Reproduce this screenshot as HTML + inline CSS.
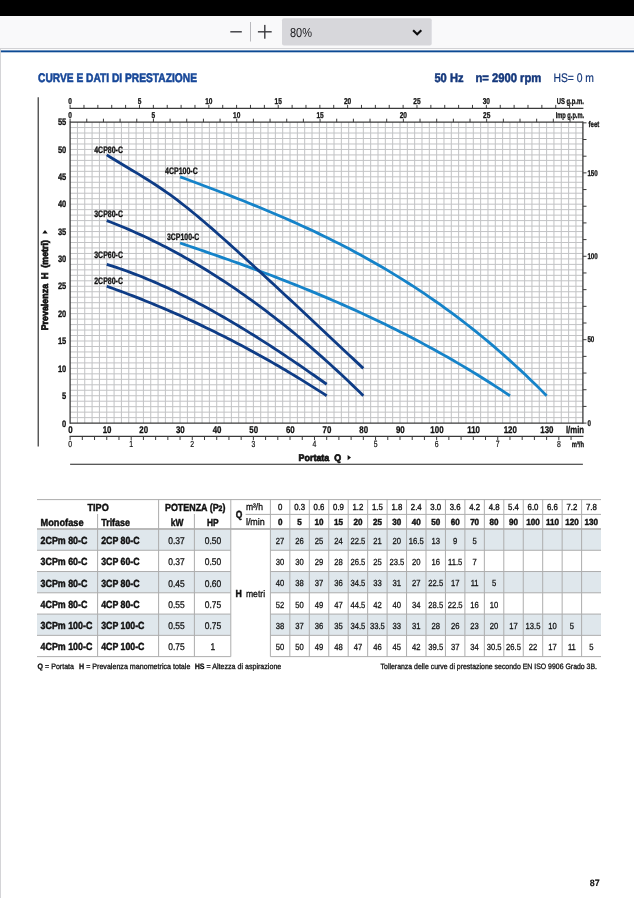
<!DOCTYPE html>
<html><head><meta charset="utf-8"><title>Curve e dati di prestazione</title>
<style>
html,body{margin:0;padding:0;background:#fff;}
svg{display:block;font-family:"Liberation Sans",sans-serif;text-rendering:geometricPrecision;}
</style></head><body>
<svg width="634" height="898" viewBox="0 0 634 898">
<rect width="634" height="898" fill="#fff"/>
<rect x="0.00" y="0.00" width="634.00" height="16.00" fill="#000"/>
<rect x="0.00" y="16.00" width="634.00" height="32.00" fill="#f9f9fa"/>
<rect x="0.00" y="48.00" width="634.00" height="1.10" fill="#d2d2d5"/>
<rect x="0.00" y="49.00" width="0.90" height="849.00" fill="#d0d0d3"/>
<rect x="0.90" y="50.40" width="634.00" height="1.90" fill="#0d4a94"/>
<rect x="230.30" y="31.10" width="11.50" height="1.40" fill="#3a3a3f"/>
<rect x="250.00" y="22.00" width="1.00" height="19.50" fill="#b8b8bc"/>
<rect x="257.90" y="31.10" width="13.80" height="1.40" fill="#3a3a3f"/>
<rect x="264.10" y="24.90" width="1.40" height="13.80" fill="#3a3a3f"/>
<rect x="282" y="18.3" width="149.7" height="27.3" rx="2" fill="#d7d7db"/>
<text transform="translate(289.90,36.60) scale(0.8456,1)" font-size="13.0" font-weight="400" text-anchor="start" fill="#1a1a1e" xml:space="preserve">80%</text>
<path d="M413.1 30.2 L417.2 34.3 L421.3 30.2" fill="none" stroke="#0c0c0d" stroke-width="2.1"/>
<text transform="translate(38.00,81.60) scale(0.8256,1)" font-size="12.38" font-weight="700" text-anchor="start" fill="#174798" xml:space="preserve" stroke="#174798" stroke-width="0.55">CURVE E DATI DI PRESTAZIONE</text>
<text transform="translate(434.40,81.60) scale(0.8998,1)" font-size="12.38" font-weight="700" text-anchor="start" fill="#15387c" xml:space="preserve" stroke="#15387c" stroke-width="0.5">50 Hz</text>
<text transform="translate(475.40,81.60) scale(0.9091,1)" font-size="12.38" font-weight="700" text-anchor="start" fill="#15387c" xml:space="preserve" stroke="#15387c" stroke-width="0.5">n= 2900 rpm</text>
<text transform="translate(553.40,81.60) scale(0.8370,1)" font-size="12.38" font-weight="400" text-anchor="start" fill="#15387c" xml:space="preserve" stroke="#15387c" stroke-width="0.2">HS= 0 m</text>
<path d="M77.43 122.09V423.10M84.76 122.09V423.10M92.09 122.09V423.10M99.42 122.09V423.10M106.75 122.09V423.10M114.09 122.09V423.10M121.42 122.09V423.10M128.75 122.09V423.10M136.08 122.09V423.10M143.41 122.09V423.10M150.74 122.09V423.10M158.07 122.09V423.10M165.40 122.09V423.10M172.73 122.09V423.10M180.06 122.09V423.10M187.40 122.09V423.10M194.73 122.09V423.10M202.06 122.09V423.10M209.39 122.09V423.10M216.72 122.09V423.10M224.05 122.09V423.10M231.38 122.09V423.10M238.71 122.09V423.10M246.04 122.09V423.10M253.38 122.09V423.10M260.71 122.09V423.10M268.04 122.09V423.10M275.37 122.09V423.10M282.70 122.09V423.10M290.03 122.09V423.10M297.36 122.09V423.10M304.69 122.09V423.10M312.02 122.09V423.10M319.35 122.09V423.10M326.69 122.09V423.10M334.02 122.09V423.10M341.35 122.09V423.10M348.68 122.09V423.10M356.01 122.09V423.10M363.34 122.09V423.10M370.67 122.09V423.10M378.00 122.09V423.10M385.33 122.09V423.10M392.66 122.09V423.10M400.00 122.09V423.10M407.33 122.09V423.10M414.66 122.09V423.10M421.99 122.09V423.10M429.32 122.09V423.10M436.65 122.09V423.10M443.98 122.09V423.10M451.31 122.09V423.10M458.64 122.09V423.10M465.97 122.09V423.10M473.31 122.09V423.10M480.64 122.09V423.10M487.97 122.09V423.10M495.30 122.09V423.10M502.63 122.09V423.10M509.96 122.09V423.10M517.29 122.09V423.10M524.62 122.09V423.10M531.95 122.09V423.10M539.28 122.09V423.10M546.62 122.09V423.10M553.95 122.09V423.10M561.28 122.09V423.10M568.61 122.09V423.10M575.94 122.09V423.10M70.10 417.63H582.90M70.10 412.15H582.90M70.10 406.68H582.90M70.10 401.21H582.90M70.10 395.74H582.90M70.10 390.26H582.90M70.10 384.79H582.90M70.10 379.32H582.90M70.10 373.84H582.90M70.10 368.37H582.90M70.10 362.90H582.90M70.10 357.42H582.90M70.10 351.95H582.90M70.10 346.48H582.90M70.10 341.00H582.90M70.10 335.53H582.90M70.10 330.06H582.90M70.10 324.59H582.90M70.10 319.11H582.90M70.10 313.64H582.90M70.10 308.17H582.90M70.10 302.69H582.90M70.10 297.22H582.90M70.10 291.75H582.90M70.10 286.28H582.90M70.10 280.80H582.90M70.10 275.33H582.90M70.10 269.86H582.90M70.10 264.38H582.90M70.10 258.91H582.90M70.10 253.44H582.90M70.10 247.96H582.90M70.10 242.49H582.90M70.10 237.02H582.90M70.10 231.55H582.90M70.10 226.07H582.90M70.10 220.60H582.90M70.10 215.13H582.90M70.10 209.65H582.90M70.10 204.18H582.90M70.10 198.71H582.90M70.10 193.23H582.90M70.10 187.76H582.90M70.10 182.29H582.90M70.10 176.82H582.90M70.10 171.34H582.90M70.10 165.87H582.90M70.10 160.40H582.90M70.10 154.92H582.90M70.10 149.45H582.90M70.10 143.98H582.90M70.10 138.50H582.90M70.10 133.03H582.90M70.10 127.56H582.90" stroke="#c2c3c5" stroke-width="1" fill="none"/>
<path d="M180.06 176.82 L185.38 178.77 L190.69 180.74 L196.00 182.71 L201.31 184.69 L206.63 186.69 L211.94 188.69 L217.25 190.71 L222.56 192.75 L227.88 194.80 L233.19 196.87 L238.50 198.95 L243.81 201.06 L249.13 203.19 L254.44 205.34 L259.75 207.51 L265.06 209.71 L270.37 211.94 L275.69 214.19 L281.00 216.47 L286.31 218.78 L291.62 221.13 L296.94 223.50 L302.25 225.91 L307.56 228.36 L312.87 230.84 L318.19 233.36 L323.50 235.92 L328.81 238.52 L334.12 241.16 L339.43 243.85 L344.75 246.58 L350.06 249.35 L355.37 252.17 L360.68 255.04 L366.00 257.96 L371.31 260.93 L376.62 263.95 L381.93 267.03 L387.25 270.15 L392.56 273.34 L397.87 276.58 L403.18 279.88 L408.49 283.24 L413.81 286.66 L419.12 290.15 L424.43 293.69 L429.74 297.31 L435.06 300.98 L440.37 304.73 L445.68 308.54 L450.99 312.42 L456.31 316.38 L461.62 320.41 L466.93 324.51 L472.24 328.68 L477.55 332.93 L482.87 337.26 L488.18 341.67 L493.49 346.16 L498.80 350.73 L504.12 355.38 L509.43 360.12 L514.74 364.94 L520.05 369.85 L525.37 374.85 L530.68 379.93 L535.99 385.11 L541.30 390.37 L546.62 395.74" stroke="#1583c9" stroke-width="2.8" fill="none" stroke-linecap="butt"/>
<path d="M180.06 243.04 L184.85 244.65 L189.63 246.26 L194.41 247.89 L199.19 249.52 L203.97 251.16 L208.75 252.81 L213.53 254.47 L218.31 256.14 L223.09 257.82 L227.88 259.51 L232.66 261.22 L237.44 262.93 L242.22 264.66 L247.00 266.40 L251.78 268.15 L256.56 269.92 L261.34 271.70 L266.12 273.49 L270.91 275.31 L275.69 277.13 L280.47 278.97 L285.25 280.83 L290.03 282.71 L294.81 284.60 L299.59 286.52 L304.37 288.45 L309.15 290.40 L313.94 292.37 L318.72 294.36 L323.50 296.37 L328.28 298.40 L333.06 300.45 L337.84 302.52 L342.62 304.62 L347.40 306.74 L352.18 308.88 L356.97 311.04 L361.75 313.23 L366.53 315.45 L371.31 317.69 L376.09 319.95 L380.87 322.25 L385.65 324.56 L390.43 326.91 L395.21 329.28 L400.00 331.68 L404.78 334.11 L409.56 336.57 L414.34 339.06 L419.12 341.58 L423.90 344.13 L428.68 346.71 L433.46 349.32 L438.24 351.96 L443.02 354.63 L447.81 357.34 L452.59 360.08 L457.37 362.86 L462.15 365.66 L466.93 368.51 L471.71 371.39 L476.49 374.30 L481.27 377.25 L486.05 380.24 L490.84 383.26 L495.62 386.32 L500.40 389.42 L505.18 392.56 L509.96 395.74" stroke="#1583c9" stroke-width="2.8" fill="none" stroke-linecap="butt"/>
<path d="M106.75 154.92 L110.47 157.25 L114.19 159.53 L117.91 161.79 L121.63 164.02 L125.35 166.24 L129.07 168.46 L132.79 170.68 L136.50 172.91 L140.22 175.16 L143.94 177.44 L147.66 179.76 L151.38 182.11 L155.10 184.51 L158.82 186.97 L162.53 189.49 L166.25 192.07 L169.97 194.73 L173.69 197.45 L177.41 200.24 L181.13 203.09 L184.85 206.00 L188.56 208.96 L192.28 211.97 L196.00 215.03 L199.72 218.14 L203.44 221.28 L207.16 224.46 L210.88 227.68 L214.60 230.92 L218.31 234.20 L222.03 237.49 L225.75 240.80 L229.47 244.13 L233.19 247.47 L236.91 250.82 L240.63 254.19 L244.34 257.56 L248.06 260.94 L251.78 264.33 L255.50 267.72 L259.22 271.13 L262.94 274.54 L266.66 277.96 L270.37 281.39 L274.09 284.83 L277.81 288.27 L281.53 291.71 L285.25 295.17 L288.97 298.63 L292.69 302.09 L296.40 305.56 L300.12 309.03 L303.84 312.50 L307.56 315.98 L311.28 319.47 L315.00 322.95 L318.72 326.44 L322.44 329.93 L326.15 333.42 L329.87 336.92 L333.59 340.41 L337.31 343.91 L341.03 347.40 L344.75 350.90 L348.47 354.40 L352.18 357.89 L355.90 361.39 L359.62 364.88 L363.34 368.37" stroke="#0e3c86" stroke-width="2.8" fill="none" stroke-linecap="butt"/>
<path d="M106.75 220.60 L110.47 222.02 L114.19 223.48 L117.91 224.97 L121.63 226.50 L125.35 228.06 L129.07 229.64 L132.79 231.27 L136.50 232.92 L140.22 234.61 L143.94 236.33 L147.66 238.08 L151.38 239.87 L155.10 241.69 L158.82 243.54 L162.53 245.42 L166.25 247.34 L169.97 249.29 L173.69 251.27 L177.41 253.28 L181.13 255.33 L184.85 257.41 L188.56 259.52 L192.28 261.67 L196.00 263.84 L199.72 266.05 L203.44 268.30 L207.16 270.57 L210.88 272.88 L214.60 275.23 L218.31 277.60 L222.03 280.01 L225.75 282.45 L229.47 284.92 L233.19 287.42 L236.91 289.96 L240.63 292.53 L244.34 295.14 L248.06 297.77 L251.78 300.44 L255.50 303.14 L259.22 305.88 L262.94 308.64 L266.66 311.44 L270.37 314.28 L274.09 317.14 L277.81 320.04 L281.53 322.97 L285.25 325.93 L288.97 328.93 L292.69 331.96 L296.40 335.02 L300.12 338.12 L303.84 341.24 L307.56 344.40 L311.28 347.60 L315.00 350.82 L318.72 354.08 L322.44 357.37 L326.15 360.69 L329.87 364.05 L333.59 367.44 L337.31 370.86 L341.03 374.32 L344.75 377.81 L348.47 381.33 L352.18 384.88 L355.90 388.46 L359.62 392.08 L363.34 395.74" stroke="#0e3c86" stroke-width="2.8" fill="none" stroke-linecap="butt"/>
<path d="M106.75 264.38 L109.94 265.38 L113.13 266.40 L116.32 267.45 L119.50 268.52 L122.69 269.63 L125.88 270.76 L129.07 271.92 L132.25 273.11 L135.44 274.32 L138.63 275.56 L141.82 276.82 L145.00 278.11 L148.19 279.43 L151.38 280.77 L154.57 282.13 L157.75 283.52 L160.94 284.93 L164.13 286.37 L167.32 287.83 L170.50 289.31 L173.69 290.82 L176.88 292.35 L180.06 293.90 L183.25 295.47 L186.44 297.07 L189.63 298.69 L192.81 300.32 L196.00 301.98 L199.19 303.66 L202.38 305.36 L205.56 307.08 L208.75 308.82 L211.94 310.58 L215.13 312.35 L218.31 314.15 L221.50 315.96 L224.69 317.80 L227.88 319.65 L231.06 321.51 L234.25 323.40 L237.44 325.30 L240.63 327.22 L243.81 329.15 L247.00 331.11 L250.19 333.07 L253.38 335.05 L256.56 337.05 L259.75 339.06 L262.94 341.09 L266.12 343.13 L269.31 345.19 L272.50 347.26 L275.69 349.34 L278.87 351.44 L282.06 353.54 L285.25 355.66 L288.44 357.80 L291.62 359.94 L294.81 362.10 L298.00 364.27 L301.19 366.45 L304.37 368.64 L307.56 370.84 L310.75 373.05 L313.94 375.27 L317.12 377.50 L320.31 379.74 L323.50 381.98 L326.69 384.24" stroke="#0e3c86" stroke-width="2.8" fill="none" stroke-linecap="butt"/>
<path d="M106.75 286.28 L109.94 287.41 L113.13 288.55 L116.32 289.71 L119.50 290.88 L122.69 292.06 L125.88 293.25 L129.07 294.46 L132.25 295.68 L135.44 296.92 L138.63 298.16 L141.82 299.42 L145.00 300.70 L148.19 301.98 L151.38 303.28 L154.57 304.59 L157.75 305.92 L160.94 307.26 L164.13 308.61 L167.32 309.97 L170.50 311.35 L173.69 312.74 L176.88 314.15 L180.06 315.57 L183.25 317.00 L186.44 318.45 L189.63 319.90 L192.81 321.38 L196.00 322.86 L199.19 324.36 L202.38 325.87 L205.56 327.40 L208.75 328.94 L211.94 330.49 L215.13 332.06 L218.31 333.64 L221.50 335.24 L224.69 336.85 L227.88 338.47 L231.06 340.10 L234.25 341.75 L237.44 343.42 L240.63 345.09 L243.81 346.79 L247.00 348.49 L250.19 350.21 L253.38 351.94 L256.56 353.69 L259.75 355.45 L262.94 357.23 L266.12 359.02 L269.31 360.82 L272.50 362.64 L275.69 364.47 L278.87 366.32 L282.06 368.18 L285.25 370.05 L288.44 371.94 L291.62 373.85 L294.81 375.76 L298.00 377.69 L301.19 379.64 L304.37 381.60 L307.56 383.58 L310.75 385.57 L313.94 387.57 L317.12 389.59 L320.31 391.62 L323.50 393.67 L326.69 395.74" stroke="#0e3c86" stroke-width="2.8" fill="none" stroke-linecap="butt"/>
<text transform="translate(94.20,152.60) scale(0.7482,1)" font-size="9.36" font-weight="700" text-anchor="start" fill="#111" xml:space="preserve" stroke="#111" stroke-width="0.3">4CP80-C</text>
<text transform="translate(165.00,174.00) scale(0.7506,1)" font-size="9.36" font-weight="700" text-anchor="start" fill="#111" xml:space="preserve" stroke="#111" stroke-width="0.3">4CP100-C</text>
<text transform="translate(94.20,216.80) scale(0.7482,1)" font-size="9.36" font-weight="700" text-anchor="start" fill="#111" xml:space="preserve" stroke="#111" stroke-width="0.3">3CP80-C</text>
<text transform="translate(167.00,240.40) scale(0.7414,1)" font-size="9.36" font-weight="700" text-anchor="start" fill="#111" xml:space="preserve" stroke="#111" stroke-width="0.3">3CP100-C</text>
<text transform="translate(94.20,258.00) scale(0.7482,1)" font-size="9.36" font-weight="700" text-anchor="start" fill="#111" xml:space="preserve" stroke="#111" stroke-width="0.3">3CP60-C</text>
<text transform="translate(94.20,284.00) scale(0.7482,1)" font-size="9.36" font-weight="700" text-anchor="start" fill="#111" xml:space="preserve" stroke="#111" stroke-width="0.3">2CP80-C</text>
<line x1="70.10" y1="121.49" x2="70.10" y2="423.70" stroke="#3a3a3a" stroke-width="1.3"/>
<line x1="582.90" y1="121.49" x2="582.90" y2="423.70" stroke="#3a3a3a" stroke-width="1.3"/>
<line x1="70.10" y1="122.09" x2="582.90" y2="122.09" stroke="#3a3a3a" stroke-width="1.3"/>
<line x1="70.10" y1="423.10" x2="582.90" y2="423.10" stroke="#3a3a3a" stroke-width="1.3"/>
<line x1="69.60" y1="108.30" x2="583.40" y2="108.30" stroke="#3a3a3a" stroke-width="1.2"/>
<path d="M70.10 108.30v-3.4M83.98 108.30v-3.4M97.85 108.30v-3.4M111.73 108.30v-3.4M125.60 108.30v-3.4M139.48 108.30v-3.4M153.35 108.30v-3.4M167.23 108.30v-3.4M181.10 108.30v-3.4M194.98 108.30v-3.4M208.85 108.30v-3.4M222.73 108.30v-3.4M236.60 108.30v-3.4M250.48 108.30v-3.4M264.36 108.30v-3.4M278.23 108.30v-3.4M292.11 108.30v-3.4M305.98 108.30v-3.4M319.86 108.30v-3.4M333.73 108.30v-3.4M347.61 108.30v-3.4M361.48 108.30v-3.4M375.36 108.30v-3.4M389.23 108.30v-3.4M403.11 108.30v-3.4M416.98 108.30v-3.4M430.86 108.30v-3.4M444.74 108.30v-3.4M458.61 108.30v-3.4M472.49 108.30v-3.4M486.36 108.30v-3.4M500.24 108.30v-3.4M514.11 108.30v-3.4M527.99 108.30v-3.4M541.86 108.30v-3.4M555.74 108.30v-3.4M569.61 108.30v-3.4" stroke="#3a3a3a" stroke-width="1" fill="none"/>
<text transform="translate(70.10,103.70) scale(0.7692,1)" font-size="8.53" font-weight="700" text-anchor="middle" fill="#111" xml:space="preserve" stroke="#111" stroke-width="0.3">0</text>
<text transform="translate(139.48,103.70) scale(0.7692,1)" font-size="8.53" font-weight="700" text-anchor="middle" fill="#111" xml:space="preserve" stroke="#111" stroke-width="0.3">5</text>
<text transform="translate(208.85,103.70) scale(0.7692,1)" font-size="8.53" font-weight="700" text-anchor="middle" fill="#111" xml:space="preserve" stroke="#111" stroke-width="0.3">10</text>
<text transform="translate(278.23,103.70) scale(0.7692,1)" font-size="8.53" font-weight="700" text-anchor="middle" fill="#111" xml:space="preserve" stroke="#111" stroke-width="0.3">15</text>
<text transform="translate(347.61,103.70) scale(0.7692,1)" font-size="8.53" font-weight="700" text-anchor="middle" fill="#111" xml:space="preserve" stroke="#111" stroke-width="0.3">20</text>
<text transform="translate(416.98,103.70) scale(0.7692,1)" font-size="8.53" font-weight="700" text-anchor="middle" fill="#111" xml:space="preserve" stroke="#111" stroke-width="0.3">25</text>
<text transform="translate(486.36,103.70) scale(0.7692,1)" font-size="8.53" font-weight="700" text-anchor="middle" fill="#111" xml:space="preserve" stroke="#111" stroke-width="0.3">30</text>
<text transform="translate(556.70,103.90) scale(0.6915,1)" font-size="8.53" font-weight="700" text-anchor="start" fill="#111" xml:space="preserve" stroke="#111" stroke-width="0.3">US g.p.m.</text>
<path d="M70.10 122.09v-3.4M86.76 122.09v-3.4M103.43 122.09v-3.4M120.09 122.09v-3.4M136.75 122.09v-3.4M153.42 122.09v-3.4M170.08 122.09v-3.4M186.74 122.09v-3.4M203.41 122.09v-3.4M220.07 122.09v-3.4M236.73 122.09v-3.4M253.40 122.09v-3.4M270.06 122.09v-3.4M286.72 122.09v-3.4M303.39 122.09v-3.4M320.05 122.09v-3.4M336.71 122.09v-3.4M353.38 122.09v-3.4M370.04 122.09v-3.4M386.70 122.09v-3.4M403.37 122.09v-3.4M420.03 122.09v-3.4M436.69 122.09v-3.4M453.36 122.09v-3.4M470.02 122.09v-3.4M486.68 122.09v-3.4M503.35 122.09v-3.4M520.01 122.09v-3.4M536.67 122.09v-3.4M553.34 122.09v-3.4M570.00 122.09v-3.4" stroke="#3a3a3a" stroke-width="1" fill="none"/>
<text transform="translate(70.10,117.70) scale(0.7692,1)" font-size="8.53" font-weight="700" text-anchor="middle" fill="#111" xml:space="preserve" stroke="#111" stroke-width="0.3">0</text>
<text transform="translate(153.42,117.70) scale(0.7692,1)" font-size="8.53" font-weight="700" text-anchor="middle" fill="#111" xml:space="preserve" stroke="#111" stroke-width="0.3">5</text>
<text transform="translate(236.73,117.70) scale(0.7692,1)" font-size="8.53" font-weight="700" text-anchor="middle" fill="#111" xml:space="preserve" stroke="#111" stroke-width="0.3">10</text>
<text transform="translate(320.05,117.70) scale(0.7692,1)" font-size="8.53" font-weight="700" text-anchor="middle" fill="#111" xml:space="preserve" stroke="#111" stroke-width="0.3">15</text>
<text transform="translate(403.37,117.70) scale(0.7692,1)" font-size="8.53" font-weight="700" text-anchor="middle" fill="#111" xml:space="preserve" stroke="#111" stroke-width="0.3">20</text>
<text transform="translate(486.68,117.70) scale(0.7692,1)" font-size="8.53" font-weight="700" text-anchor="middle" fill="#111" xml:space="preserve" stroke="#111" stroke-width="0.3">25</text>
<text transform="translate(555.70,117.90) scale(0.6659,1)" font-size="8.53" font-weight="700" text-anchor="start" fill="#111" xml:space="preserve" stroke="#111" stroke-width="0.3">Imp g.p.m.</text>
<path d="M582.90 423.10h3.6M582.90 406.42h3.6M582.90 389.74h3.6M582.90 373.05h3.6M582.90 356.37h3.6M582.90 339.69h3.6M582.90 323.01h3.6M582.90 306.33h3.6M582.90 289.65h3.6M582.90 272.96h3.6M582.90 256.28h3.6M582.90 239.60h3.6M582.90 222.92h3.6M582.90 206.24h3.6M582.90 189.56h3.6M582.90 172.87h3.6M582.90 156.19h3.6M582.90 139.51h3.6M582.90 122.83h3.6" stroke="#3a3a3a" stroke-width="1" fill="none"/>
<text transform="translate(587.40,342.49) scale(0.7500,1)" font-size="8.32" font-weight="700" text-anchor="start" fill="#111" xml:space="preserve" stroke="#111" stroke-width="0.3">50</text>
<text transform="translate(587.40,259.08) scale(0.7500,1)" font-size="8.32" font-weight="700" text-anchor="start" fill="#111" xml:space="preserve" stroke="#111" stroke-width="0.3">100</text>
<text transform="translate(587.40,175.67) scale(0.7500,1)" font-size="8.32" font-weight="700" text-anchor="start" fill="#111" xml:space="preserve" stroke="#111" stroke-width="0.3">150</text>
<text transform="translate(587.40,425.90) scale(0.7500,1)" font-size="8.32" font-weight="700" text-anchor="start" fill="#111" xml:space="preserve" stroke="#111" stroke-width="0.3">0</text>
<text transform="translate(588.60,127.40) scale(0.7165,1)" font-size="8.32" font-weight="700" text-anchor="start" fill="#111" xml:space="preserve" stroke="#111" stroke-width="0.3">feet</text>
<text transform="translate(66.30,426.70) scale(0.8077,1)" font-size="9.36" font-weight="700" text-anchor="end" fill="#111" xml:space="preserve" stroke="#111" stroke-width="0.3">0</text>
<text transform="translate(66.30,398.94) scale(0.8077,1)" font-size="9.36" font-weight="700" text-anchor="end" fill="#111" xml:space="preserve" stroke="#111" stroke-width="0.3">5</text>
<text transform="translate(66.30,371.57) scale(0.8077,1)" font-size="9.36" font-weight="700" text-anchor="end" fill="#111" xml:space="preserve" stroke="#111" stroke-width="0.3">10</text>
<text transform="translate(66.30,344.20) scale(0.8077,1)" font-size="9.36" font-weight="700" text-anchor="end" fill="#111" xml:space="preserve" stroke="#111" stroke-width="0.3">15</text>
<text transform="translate(66.30,316.84) scale(0.8077,1)" font-size="9.36" font-weight="700" text-anchor="end" fill="#111" xml:space="preserve" stroke="#111" stroke-width="0.3">20</text>
<text transform="translate(66.30,289.48) scale(0.8077,1)" font-size="9.36" font-weight="700" text-anchor="end" fill="#111" xml:space="preserve" stroke="#111" stroke-width="0.3">25</text>
<text transform="translate(66.30,262.11) scale(0.8077,1)" font-size="9.36" font-weight="700" text-anchor="end" fill="#111" xml:space="preserve" stroke="#111" stroke-width="0.3">30</text>
<text transform="translate(66.30,234.75) scale(0.8077,1)" font-size="9.36" font-weight="700" text-anchor="end" fill="#111" xml:space="preserve" stroke="#111" stroke-width="0.3">35</text>
<text transform="translate(66.30,207.38) scale(0.8077,1)" font-size="9.36" font-weight="700" text-anchor="end" fill="#111" xml:space="preserve" stroke="#111" stroke-width="0.3">40</text>
<text transform="translate(66.30,180.02) scale(0.8077,1)" font-size="9.36" font-weight="700" text-anchor="end" fill="#111" xml:space="preserve" stroke="#111" stroke-width="0.3">45</text>
<text transform="translate(66.30,152.65) scale(0.8077,1)" font-size="9.36" font-weight="700" text-anchor="end" fill="#111" xml:space="preserve" stroke="#111" stroke-width="0.3">50</text>
<text transform="translate(66.30,125.29) scale(0.8077,1)" font-size="9.36" font-weight="700" text-anchor="end" fill="#111" xml:space="preserve" stroke="#111" stroke-width="0.3">55</text>
<text transform="translate(70.40,433.10) scale(0.8077,1)" font-size="9.78" font-weight="700" text-anchor="middle" fill="#111" xml:space="preserve" stroke="#111" stroke-width="0.3">0</text>
<text transform="translate(107.05,433.10) scale(0.8077,1)" font-size="9.78" font-weight="700" text-anchor="middle" fill="#111" xml:space="preserve" stroke="#111" stroke-width="0.3">10</text>
<text transform="translate(143.71,433.10) scale(0.8077,1)" font-size="9.78" font-weight="700" text-anchor="middle" fill="#111" xml:space="preserve" stroke="#111" stroke-width="0.3">20</text>
<text transform="translate(180.37,433.10) scale(0.8077,1)" font-size="9.78" font-weight="700" text-anchor="middle" fill="#111" xml:space="preserve" stroke="#111" stroke-width="0.3">30</text>
<text transform="translate(217.02,433.10) scale(0.8077,1)" font-size="9.78" font-weight="700" text-anchor="middle" fill="#111" xml:space="preserve" stroke="#111" stroke-width="0.3">40</text>
<text transform="translate(253.68,433.10) scale(0.8077,1)" font-size="9.78" font-weight="700" text-anchor="middle" fill="#111" xml:space="preserve" stroke="#111" stroke-width="0.3">50</text>
<text transform="translate(290.33,433.10) scale(0.8077,1)" font-size="9.78" font-weight="700" text-anchor="middle" fill="#111" xml:space="preserve" stroke="#111" stroke-width="0.3">60</text>
<text transform="translate(326.99,433.10) scale(0.8077,1)" font-size="9.78" font-weight="700" text-anchor="middle" fill="#111" xml:space="preserve" stroke="#111" stroke-width="0.3">70</text>
<text transform="translate(363.64,433.10) scale(0.8077,1)" font-size="9.78" font-weight="700" text-anchor="middle" fill="#111" xml:space="preserve" stroke="#111" stroke-width="0.3">80</text>
<text transform="translate(400.30,433.10) scale(0.8077,1)" font-size="9.78" font-weight="700" text-anchor="middle" fill="#111" xml:space="preserve" stroke="#111" stroke-width="0.3">90</text>
<text transform="translate(436.95,433.10) scale(0.8077,1)" font-size="9.78" font-weight="700" text-anchor="middle" fill="#111" xml:space="preserve" stroke="#111" stroke-width="0.3">100</text>
<text transform="translate(473.61,433.10) scale(0.8077,1)" font-size="9.78" font-weight="700" text-anchor="middle" fill="#111" xml:space="preserve" stroke="#111" stroke-width="0.3">110</text>
<text transform="translate(510.26,433.10) scale(0.8077,1)" font-size="9.78" font-weight="700" text-anchor="middle" fill="#111" xml:space="preserve" stroke="#111" stroke-width="0.3">120</text>
<text transform="translate(546.91,433.10) scale(0.8077,1)" font-size="9.78" font-weight="700" text-anchor="middle" fill="#111" xml:space="preserve" stroke="#111" stroke-width="0.3">130</text>
<text transform="translate(565.90,433.10) scale(0.7975,1)" font-size="9.78" font-weight="700" text-anchor="start" fill="#111" xml:space="preserve" stroke="#111" stroke-width="0.3">l/min</text>
<line x1="69.60" y1="436.40" x2="583.40" y2="436.40" stroke="#3a3a3a" stroke-width="1.2"/>
<path d="M70.10 436.40v3.6M82.32 436.40v3.6M94.54 436.40v3.6M106.75 436.40v3.6M118.97 436.40v3.6M131.19 436.40v3.6M143.41 436.40v3.6M155.63 436.40v3.6M167.85 436.40v3.6M180.06 436.40v3.6M192.28 436.40v3.6M204.50 436.40v3.6M216.72 436.40v3.6M228.94 436.40v3.6M241.16 436.40v3.6M253.38 436.40v3.6M265.59 436.40v3.6M277.81 436.40v3.6M290.03 436.40v3.6M302.25 436.40v3.6M314.47 436.40v3.6M326.69 436.40v3.6M338.90 436.40v3.6M351.12 436.40v3.6M363.34 436.40v3.6M375.56 436.40v3.6M387.78 436.40v3.6M400.00 436.40v3.6M412.21 436.40v3.6M424.43 436.40v3.6M436.65 436.40v3.6M448.87 436.40v3.6M461.09 436.40v3.6M473.31 436.40v3.6M485.52 436.40v3.6M497.74 436.40v3.6M509.96 436.40v3.6M522.18 436.40v3.6M534.40 436.40v3.6M546.62 436.40v3.6M558.83 436.40v3.6M571.05 436.40v3.6" stroke="#3a3a3a" stroke-width="1" fill="none"/>
<text transform="translate(70.10,446.80) scale(0.7692,1)" font-size="8.94" font-weight="400" text-anchor="middle" fill="#111" xml:space="preserve" stroke="#111" stroke-width="0.2">0</text>
<text transform="translate(131.19,446.80) scale(0.7692,1)" font-size="8.94" font-weight="400" text-anchor="middle" fill="#111" xml:space="preserve" stroke="#111" stroke-width="0.2">1</text>
<text transform="translate(192.28,446.80) scale(0.7692,1)" font-size="8.94" font-weight="400" text-anchor="middle" fill="#111" xml:space="preserve" stroke="#111" stroke-width="0.2">2</text>
<text transform="translate(253.38,446.80) scale(0.7692,1)" font-size="8.94" font-weight="400" text-anchor="middle" fill="#111" xml:space="preserve" stroke="#111" stroke-width="0.2">3</text>
<text transform="translate(314.47,446.80) scale(0.7692,1)" font-size="8.94" font-weight="400" text-anchor="middle" fill="#111" xml:space="preserve" stroke="#111" stroke-width="0.2">4</text>
<text transform="translate(375.56,446.80) scale(0.7692,1)" font-size="8.94" font-weight="400" text-anchor="middle" fill="#111" xml:space="preserve" stroke="#111" stroke-width="0.2">5</text>
<text transform="translate(436.65,446.80) scale(0.7692,1)" font-size="8.94" font-weight="400" text-anchor="middle" fill="#111" xml:space="preserve" stroke="#111" stroke-width="0.2">6</text>
<text transform="translate(497.74,446.80) scale(0.7692,1)" font-size="8.94" font-weight="400" text-anchor="middle" fill="#111" xml:space="preserve" stroke="#111" stroke-width="0.2">7</text>
<text transform="translate(558.83,446.80) scale(0.7692,1)" font-size="8.94" font-weight="400" text-anchor="middle" fill="#111" xml:space="preserve" stroke="#111" stroke-width="0.2">8</text>
<text transform="translate(571.70,446.80) scale(0.7436,1)" font-size="7.9" font-weight="700" text-anchor="start" fill="#111" xml:space="preserve" stroke="#111" stroke-width="0.3">m³/h</text>
<text transform="translate(298.60,460.80) scale(0.9315,1)" font-size="9.57" font-weight="700" text-anchor="start" fill="#111" xml:space="preserve" stroke="#111" stroke-width="0.7">Portata  Q</text>
<path d="M347.6 454.9 L351 457.6 L347.6 460.3Z" fill="#111"/>
<text transform="translate(48.00,330.30) rotate(-90) scale(0.9278,1)" font-size="9.57" font-weight="700" text-anchor="start" fill="#111" xml:space="preserve" stroke="#111" stroke-width="0.7">Prevalenza  H  (metri)</text>
<path d="M42.3 233.4 L45 230 L47.7 233.4Z" fill="#111"/>
<line x1="38.20" y1="97.30" x2="38.20" y2="446.60" stroke="#222" stroke-width="1.1"/>
<line x1="70.10" y1="464.30" x2="582.90" y2="464.30" stroke="#222" stroke-width="1.1"/>
<rect x="37.00" y="530.00" width="193.80" height="20.27" fill="#dfe7ec"/>
<rect x="270.40" y="530.00" width="330.60" height="20.27" fill="#dfe7ec"/>
<rect x="37.00" y="571.54" width="193.80" height="21.27" fill="#dfe7ec"/>
<rect x="270.40" y="571.54" width="330.60" height="21.27" fill="#dfe7ec"/>
<rect x="37.00" y="614.08" width="193.80" height="21.27" fill="#dfe7ec"/>
<rect x="270.40" y="614.08" width="330.60" height="21.27" fill="#dfe7ec"/>
<line x1="37.00" y1="499.60" x2="601.00" y2="499.60" stroke="#adadad" stroke-width="1"/>
<line x1="37.00" y1="529.00" x2="601.00" y2="529.00" stroke="#a2a2a2" stroke-width="1.5"/>
<line x1="37.00" y1="550.27" x2="230.80" y2="550.27" stroke="#adadad" stroke-width="1"/>
<line x1="270.40" y1="550.27" x2="601.00" y2="550.27" stroke="#adadad" stroke-width="1"/>
<line x1="37.00" y1="571.54" x2="230.80" y2="571.54" stroke="#adadad" stroke-width="1"/>
<line x1="270.40" y1="571.54" x2="601.00" y2="571.54" stroke="#adadad" stroke-width="1"/>
<line x1="37.00" y1="592.81" x2="230.80" y2="592.81" stroke="#adadad" stroke-width="1"/>
<line x1="270.40" y1="592.81" x2="601.00" y2="592.81" stroke="#adadad" stroke-width="1"/>
<line x1="37.00" y1="614.08" x2="230.80" y2="614.08" stroke="#adadad" stroke-width="1"/>
<line x1="270.40" y1="614.08" x2="601.00" y2="614.08" stroke="#adadad" stroke-width="1"/>
<line x1="37.00" y1="635.35" x2="230.80" y2="635.35" stroke="#adadad" stroke-width="1"/>
<line x1="270.40" y1="635.35" x2="601.00" y2="635.35" stroke="#adadad" stroke-width="1"/>
<line x1="37.00" y1="656.62" x2="230.80" y2="656.62" stroke="#adadad" stroke-width="1"/>
<line x1="270.40" y1="656.62" x2="601.00" y2="656.62" stroke="#adadad" stroke-width="1"/>
<line x1="245.60" y1="514.40" x2="601.00" y2="514.40" stroke="#adadad" stroke-width="1"/>
<line x1="97.60" y1="514.00" x2="97.60" y2="656.62" stroke="#adadad" stroke-width="1"/>
<line x1="158.60" y1="499.60" x2="158.60" y2="656.62" stroke="#adadad" stroke-width="1"/>
<line x1="194.40" y1="514.00" x2="194.40" y2="656.62" stroke="#adadad" stroke-width="1"/>
<line x1="230.80" y1="499.60" x2="230.80" y2="656.62" stroke="#adadad" stroke-width="1"/>
<line x1="270.40" y1="499.60" x2="270.40" y2="656.62" stroke="#adadad" stroke-width="1"/>
<line x1="289.85" y1="499.60" x2="289.85" y2="656.62" stroke="#adadad" stroke-width="1"/>
<line x1="309.30" y1="499.60" x2="309.30" y2="656.62" stroke="#adadad" stroke-width="1"/>
<line x1="328.75" y1="499.60" x2="328.75" y2="656.62" stroke="#adadad" stroke-width="1"/>
<line x1="348.20" y1="499.60" x2="348.20" y2="656.62" stroke="#adadad" stroke-width="1"/>
<line x1="367.65" y1="499.60" x2="367.65" y2="656.62" stroke="#adadad" stroke-width="1"/>
<line x1="387.10" y1="499.60" x2="387.10" y2="656.62" stroke="#adadad" stroke-width="1"/>
<line x1="406.55" y1="499.60" x2="406.55" y2="656.62" stroke="#adadad" stroke-width="1"/>
<line x1="426.00" y1="499.60" x2="426.00" y2="656.62" stroke="#adadad" stroke-width="1"/>
<line x1="445.45" y1="499.60" x2="445.45" y2="656.62" stroke="#adadad" stroke-width="1"/>
<line x1="464.90" y1="499.60" x2="464.90" y2="656.62" stroke="#adadad" stroke-width="1"/>
<line x1="484.35" y1="499.60" x2="484.35" y2="656.62" stroke="#adadad" stroke-width="1"/>
<line x1="503.80" y1="499.60" x2="503.80" y2="656.62" stroke="#adadad" stroke-width="1"/>
<line x1="523.25" y1="499.60" x2="523.25" y2="656.62" stroke="#adadad" stroke-width="1"/>
<line x1="542.70" y1="499.60" x2="542.70" y2="656.62" stroke="#adadad" stroke-width="1"/>
<line x1="562.15" y1="499.60" x2="562.15" y2="656.62" stroke="#adadad" stroke-width="1"/>
<line x1="581.60" y1="499.60" x2="581.60" y2="656.62" stroke="#adadad" stroke-width="1"/>
<text transform="translate(98.10,510.70) scale(0.8821,1)" font-size="10.3" font-weight="700" text-anchor="middle" fill="#111" xml:space="preserve" stroke="#111" stroke-width="0.45">TIPO</text>
<text transform="translate(40.60,525.80) scale(0.8925,1)" font-size="10.3" font-weight="700" text-anchor="start" fill="#111" xml:space="preserve" stroke="#111" stroke-width="0.45">Monofase</text>
<text transform="translate(101.20,525.80) scale(0.8673,1)" font-size="10.3" font-weight="700" text-anchor="start" fill="#111" xml:space="preserve" stroke="#111" stroke-width="0.45">Trifase</text>
<text transform="translate(195.20,510.70) scale(0.8644,1)" font-size="10.3" font-weight="700" text-anchor="middle" fill="#111" xml:space="preserve" stroke="#111" stroke-width="0.45">POTENZA (P<tspan font-size="8">2</tspan>)</text>
<text transform="translate(177.00,525.80) scale(0.8155,1)" font-size="10.3" font-weight="700" text-anchor="middle" fill="#111" xml:space="preserve" stroke="#111" stroke-width="0.45">kW</text>
<text transform="translate(212.80,525.80) scale(0.8107,1)" font-size="10.3" font-weight="700" text-anchor="middle" fill="#111" xml:space="preserve" stroke="#111" stroke-width="0.45">HP</text>
<text transform="translate(239.10,517.80) scale(0.8238,1)" font-size="10.3" font-weight="700" text-anchor="middle" fill="#111" xml:space="preserve" stroke="#111" stroke-width="0.45">Q</text>
<text transform="translate(245.90,510.20) scale(0.8935,1)" font-size="9.57" font-weight="400" text-anchor="start" fill="#111" xml:space="preserve" stroke="#111" stroke-width="0.3">m³/h</text>
<text transform="translate(245.90,524.80) scale(0.9354,1)" font-size="9.57" font-weight="400" text-anchor="start" fill="#111" xml:space="preserve" stroke="#111" stroke-width="0.3">l/min</text>
<text transform="translate(235.60,597.20) scale(0.8469,1)" font-size="10.3" font-weight="700" text-anchor="start" fill="#111" xml:space="preserve" stroke="#111" stroke-width="0.45">H</text>
<text transform="translate(245.90,597.20) scale(0.9029,1)" font-size="9.57" font-weight="400" text-anchor="start" fill="#111" xml:space="preserve" stroke="#111" stroke-width="0.3">metri</text>
<text transform="translate(280.12,510.20) scale(0.8846,1)" font-size="8.84" font-weight="400" text-anchor="middle" fill="#111" xml:space="preserve" stroke="#111" stroke-width="0.35">0</text>
<text transform="translate(280.12,525.40) scale(0.9135,1)" font-size="8.84" font-weight="700" text-anchor="middle" fill="#111" xml:space="preserve" stroke="#111" stroke-width="0.45">0</text>
<text transform="translate(299.57,510.20) scale(0.8846,1)" font-size="8.84" font-weight="400" text-anchor="middle" fill="#111" xml:space="preserve" stroke="#111" stroke-width="0.35">0.3</text>
<text transform="translate(299.57,525.40) scale(0.9135,1)" font-size="8.84" font-weight="700" text-anchor="middle" fill="#111" xml:space="preserve" stroke="#111" stroke-width="0.45">5</text>
<text transform="translate(319.02,510.20) scale(0.8846,1)" font-size="8.84" font-weight="400" text-anchor="middle" fill="#111" xml:space="preserve" stroke="#111" stroke-width="0.35">0.6</text>
<text transform="translate(319.02,525.40) scale(0.9135,1)" font-size="8.84" font-weight="700" text-anchor="middle" fill="#111" xml:space="preserve" stroke="#111" stroke-width="0.45">10</text>
<text transform="translate(338.47,510.20) scale(0.8846,1)" font-size="8.84" font-weight="400" text-anchor="middle" fill="#111" xml:space="preserve" stroke="#111" stroke-width="0.35">0.9</text>
<text transform="translate(338.47,525.40) scale(0.9135,1)" font-size="8.84" font-weight="700" text-anchor="middle" fill="#111" xml:space="preserve" stroke="#111" stroke-width="0.45">15</text>
<text transform="translate(357.92,510.20) scale(0.8846,1)" font-size="8.84" font-weight="400" text-anchor="middle" fill="#111" xml:space="preserve" stroke="#111" stroke-width="0.35">1.2</text>
<text transform="translate(357.92,525.40) scale(0.9135,1)" font-size="8.84" font-weight="700" text-anchor="middle" fill="#111" xml:space="preserve" stroke="#111" stroke-width="0.45">20</text>
<text transform="translate(377.38,510.20) scale(0.8846,1)" font-size="8.84" font-weight="400" text-anchor="middle" fill="#111" xml:space="preserve" stroke="#111" stroke-width="0.35">1.5</text>
<text transform="translate(377.38,525.40) scale(0.9135,1)" font-size="8.84" font-weight="700" text-anchor="middle" fill="#111" xml:space="preserve" stroke="#111" stroke-width="0.45">25</text>
<text transform="translate(396.82,510.20) scale(0.8846,1)" font-size="8.84" font-weight="400" text-anchor="middle" fill="#111" xml:space="preserve" stroke="#111" stroke-width="0.35">1.8</text>
<text transform="translate(396.82,525.40) scale(0.9135,1)" font-size="8.84" font-weight="700" text-anchor="middle" fill="#111" xml:space="preserve" stroke="#111" stroke-width="0.45">30</text>
<text transform="translate(416.27,510.20) scale(0.8846,1)" font-size="8.84" font-weight="400" text-anchor="middle" fill="#111" xml:space="preserve" stroke="#111" stroke-width="0.35">2.4</text>
<text transform="translate(416.27,525.40) scale(0.9135,1)" font-size="8.84" font-weight="700" text-anchor="middle" fill="#111" xml:space="preserve" stroke="#111" stroke-width="0.45">40</text>
<text transform="translate(435.72,510.20) scale(0.8846,1)" font-size="8.84" font-weight="400" text-anchor="middle" fill="#111" xml:space="preserve" stroke="#111" stroke-width="0.35">3.0</text>
<text transform="translate(435.72,525.40) scale(0.9135,1)" font-size="8.84" font-weight="700" text-anchor="middle" fill="#111" xml:space="preserve" stroke="#111" stroke-width="0.45">50</text>
<text transform="translate(455.17,510.20) scale(0.8846,1)" font-size="8.84" font-weight="400" text-anchor="middle" fill="#111" xml:space="preserve" stroke="#111" stroke-width="0.35">3.6</text>
<text transform="translate(455.17,525.40) scale(0.9135,1)" font-size="8.84" font-weight="700" text-anchor="middle" fill="#111" xml:space="preserve" stroke="#111" stroke-width="0.45">60</text>
<text transform="translate(474.62,510.20) scale(0.8846,1)" font-size="8.84" font-weight="400" text-anchor="middle" fill="#111" xml:space="preserve" stroke="#111" stroke-width="0.35">4.2</text>
<text transform="translate(474.62,525.40) scale(0.9135,1)" font-size="8.84" font-weight="700" text-anchor="middle" fill="#111" xml:space="preserve" stroke="#111" stroke-width="0.45">70</text>
<text transform="translate(494.07,510.20) scale(0.8846,1)" font-size="8.84" font-weight="400" text-anchor="middle" fill="#111" xml:space="preserve" stroke="#111" stroke-width="0.35">4.8</text>
<text transform="translate(494.07,525.40) scale(0.9135,1)" font-size="8.84" font-weight="700" text-anchor="middle" fill="#111" xml:space="preserve" stroke="#111" stroke-width="0.45">80</text>
<text transform="translate(513.52,510.20) scale(0.8846,1)" font-size="8.84" font-weight="400" text-anchor="middle" fill="#111" xml:space="preserve" stroke="#111" stroke-width="0.35">5.4</text>
<text transform="translate(513.52,525.40) scale(0.9135,1)" font-size="8.84" font-weight="700" text-anchor="middle" fill="#111" xml:space="preserve" stroke="#111" stroke-width="0.45">90</text>
<text transform="translate(532.97,510.20) scale(0.8846,1)" font-size="8.84" font-weight="400" text-anchor="middle" fill="#111" xml:space="preserve" stroke="#111" stroke-width="0.35">6.0</text>
<text transform="translate(532.97,525.40) scale(0.9135,1)" font-size="8.84" font-weight="700" text-anchor="middle" fill="#111" xml:space="preserve" stroke="#111" stroke-width="0.45">100</text>
<text transform="translate(552.42,510.20) scale(0.8846,1)" font-size="8.84" font-weight="400" text-anchor="middle" fill="#111" xml:space="preserve" stroke="#111" stroke-width="0.35">6.6</text>
<text transform="translate(552.42,525.40) scale(0.9135,1)" font-size="8.84" font-weight="700" text-anchor="middle" fill="#111" xml:space="preserve" stroke="#111" stroke-width="0.45">110</text>
<text transform="translate(571.88,510.20) scale(0.8846,1)" font-size="8.84" font-weight="400" text-anchor="middle" fill="#111" xml:space="preserve" stroke="#111" stroke-width="0.35">7.2</text>
<text transform="translate(571.88,525.40) scale(0.9135,1)" font-size="8.84" font-weight="700" text-anchor="middle" fill="#111" xml:space="preserve" stroke="#111" stroke-width="0.45">120</text>
<text transform="translate(591.33,510.20) scale(0.8846,1)" font-size="8.84" font-weight="400" text-anchor="middle" fill="#111" xml:space="preserve" stroke="#111" stroke-width="0.35">7.8</text>
<text transform="translate(591.33,525.40) scale(0.9135,1)" font-size="8.84" font-weight="700" text-anchor="middle" fill="#111" xml:space="preserve" stroke="#111" stroke-width="0.45">130</text>
<text transform="translate(40.60,544.10) scale(0.8606,1)" font-size="10.3" font-weight="700" text-anchor="start" fill="#111" xml:space="preserve" stroke="#111" stroke-width="0.45">2CPm 80-C</text>
<text transform="translate(101.20,544.10) scale(0.8510,1)" font-size="10.3" font-weight="700" text-anchor="start" fill="#111" xml:space="preserve" stroke="#111" stroke-width="0.45">2CP 80-C</text>
<text transform="translate(176.50,544.10) scale(0.8750,1)" font-size="9.67" font-weight="400" text-anchor="middle" fill="#111" xml:space="preserve" stroke="#111" stroke-width="0.28">0.37</text>
<text transform="translate(212.90,544.10) scale(0.8750,1)" font-size="9.67" font-weight="400" text-anchor="middle" fill="#111" xml:space="preserve" stroke="#111" stroke-width="0.28">0.50</text>
<text transform="translate(280.12,543.90) scale(0.8654,1)" font-size="8.84" font-weight="400" text-anchor="middle" fill="#111" xml:space="preserve" stroke="#111" stroke-width="0.26">27</text>
<text transform="translate(299.57,543.90) scale(0.8654,1)" font-size="8.84" font-weight="400" text-anchor="middle" fill="#111" xml:space="preserve" stroke="#111" stroke-width="0.26">26</text>
<text transform="translate(319.02,543.90) scale(0.8654,1)" font-size="8.84" font-weight="400" text-anchor="middle" fill="#111" xml:space="preserve" stroke="#111" stroke-width="0.26">25</text>
<text transform="translate(338.47,543.90) scale(0.8654,1)" font-size="8.84" font-weight="400" text-anchor="middle" fill="#111" xml:space="preserve" stroke="#111" stroke-width="0.26">24</text>
<text transform="translate(357.92,543.90) scale(0.8654,1)" font-size="8.84" font-weight="400" text-anchor="middle" fill="#111" xml:space="preserve" stroke="#111" stroke-width="0.26">22.5</text>
<text transform="translate(377.38,543.90) scale(0.8654,1)" font-size="8.84" font-weight="400" text-anchor="middle" fill="#111" xml:space="preserve" stroke="#111" stroke-width="0.26">21</text>
<text transform="translate(396.82,543.90) scale(0.8654,1)" font-size="8.84" font-weight="400" text-anchor="middle" fill="#111" xml:space="preserve" stroke="#111" stroke-width="0.26">20</text>
<text transform="translate(416.27,543.90) scale(0.8654,1)" font-size="8.84" font-weight="400" text-anchor="middle" fill="#111" xml:space="preserve" stroke="#111" stroke-width="0.26">16.5</text>
<text transform="translate(435.72,543.90) scale(0.8654,1)" font-size="8.84" font-weight="400" text-anchor="middle" fill="#111" xml:space="preserve" stroke="#111" stroke-width="0.26">13</text>
<text transform="translate(455.17,543.90) scale(0.8654,1)" font-size="8.84" font-weight="400" text-anchor="middle" fill="#111" xml:space="preserve" stroke="#111" stroke-width="0.26">9</text>
<text transform="translate(474.62,543.90) scale(0.8654,1)" font-size="8.84" font-weight="400" text-anchor="middle" fill="#111" xml:space="preserve" stroke="#111" stroke-width="0.26">5</text>
<text transform="translate(40.60,565.37) scale(0.8606,1)" font-size="10.3" font-weight="700" text-anchor="start" fill="#111" xml:space="preserve" stroke="#111" stroke-width="0.45">3CPm 60-C</text>
<text transform="translate(101.20,565.37) scale(0.8510,1)" font-size="10.3" font-weight="700" text-anchor="start" fill="#111" xml:space="preserve" stroke="#111" stroke-width="0.45">3CP 60-C</text>
<text transform="translate(176.50,565.37) scale(0.8750,1)" font-size="9.67" font-weight="400" text-anchor="middle" fill="#111" xml:space="preserve" stroke="#111" stroke-width="0.28">0.37</text>
<text transform="translate(212.90,565.37) scale(0.8750,1)" font-size="9.67" font-weight="400" text-anchor="middle" fill="#111" xml:space="preserve" stroke="#111" stroke-width="0.28">0.50</text>
<text transform="translate(280.12,565.17) scale(0.8654,1)" font-size="8.84" font-weight="400" text-anchor="middle" fill="#111" xml:space="preserve" stroke="#111" stroke-width="0.26">30</text>
<text transform="translate(299.57,565.17) scale(0.8654,1)" font-size="8.84" font-weight="400" text-anchor="middle" fill="#111" xml:space="preserve" stroke="#111" stroke-width="0.26">30</text>
<text transform="translate(319.02,565.17) scale(0.8654,1)" font-size="8.84" font-weight="400" text-anchor="middle" fill="#111" xml:space="preserve" stroke="#111" stroke-width="0.26">29</text>
<text transform="translate(338.47,565.17) scale(0.8654,1)" font-size="8.84" font-weight="400" text-anchor="middle" fill="#111" xml:space="preserve" stroke="#111" stroke-width="0.26">28</text>
<text transform="translate(357.92,565.17) scale(0.8654,1)" font-size="8.84" font-weight="400" text-anchor="middle" fill="#111" xml:space="preserve" stroke="#111" stroke-width="0.26">26.5</text>
<text transform="translate(377.38,565.17) scale(0.8654,1)" font-size="8.84" font-weight="400" text-anchor="middle" fill="#111" xml:space="preserve" stroke="#111" stroke-width="0.26">25</text>
<text transform="translate(396.82,565.17) scale(0.8654,1)" font-size="8.84" font-weight="400" text-anchor="middle" fill="#111" xml:space="preserve" stroke="#111" stroke-width="0.26">23.5</text>
<text transform="translate(416.27,565.17) scale(0.8654,1)" font-size="8.84" font-weight="400" text-anchor="middle" fill="#111" xml:space="preserve" stroke="#111" stroke-width="0.26">20</text>
<text transform="translate(435.72,565.17) scale(0.8654,1)" font-size="8.84" font-weight="400" text-anchor="middle" fill="#111" xml:space="preserve" stroke="#111" stroke-width="0.26">16</text>
<text transform="translate(455.17,565.17) scale(0.8654,1)" font-size="8.84" font-weight="400" text-anchor="middle" fill="#111" xml:space="preserve" stroke="#111" stroke-width="0.26">11.5</text>
<text transform="translate(474.62,565.17) scale(0.8654,1)" font-size="8.84" font-weight="400" text-anchor="middle" fill="#111" xml:space="preserve" stroke="#111" stroke-width="0.26">7</text>
<text transform="translate(40.60,586.64) scale(0.8606,1)" font-size="10.3" font-weight="700" text-anchor="start" fill="#111" xml:space="preserve" stroke="#111" stroke-width="0.45">3CPm 80-C</text>
<text transform="translate(101.20,586.64) scale(0.8510,1)" font-size="10.3" font-weight="700" text-anchor="start" fill="#111" xml:space="preserve" stroke="#111" stroke-width="0.45">3CP 80-C</text>
<text transform="translate(176.50,586.64) scale(0.8750,1)" font-size="9.67" font-weight="400" text-anchor="middle" fill="#111" xml:space="preserve" stroke="#111" stroke-width="0.28">0.45</text>
<text transform="translate(212.90,586.64) scale(0.8750,1)" font-size="9.67" font-weight="400" text-anchor="middle" fill="#111" xml:space="preserve" stroke="#111" stroke-width="0.28">0.60</text>
<text transform="translate(280.12,586.44) scale(0.8654,1)" font-size="8.84" font-weight="400" text-anchor="middle" fill="#111" xml:space="preserve" stroke="#111" stroke-width="0.26">40</text>
<text transform="translate(299.57,586.44) scale(0.8654,1)" font-size="8.84" font-weight="400" text-anchor="middle" fill="#111" xml:space="preserve" stroke="#111" stroke-width="0.26">38</text>
<text transform="translate(319.02,586.44) scale(0.8654,1)" font-size="8.84" font-weight="400" text-anchor="middle" fill="#111" xml:space="preserve" stroke="#111" stroke-width="0.26">37</text>
<text transform="translate(338.47,586.44) scale(0.8654,1)" font-size="8.84" font-weight="400" text-anchor="middle" fill="#111" xml:space="preserve" stroke="#111" stroke-width="0.26">36</text>
<text transform="translate(357.92,586.44) scale(0.8654,1)" font-size="8.84" font-weight="400" text-anchor="middle" fill="#111" xml:space="preserve" stroke="#111" stroke-width="0.26">34.5</text>
<text transform="translate(377.38,586.44) scale(0.8654,1)" font-size="8.84" font-weight="400" text-anchor="middle" fill="#111" xml:space="preserve" stroke="#111" stroke-width="0.26">33</text>
<text transform="translate(396.82,586.44) scale(0.8654,1)" font-size="8.84" font-weight="400" text-anchor="middle" fill="#111" xml:space="preserve" stroke="#111" stroke-width="0.26">31</text>
<text transform="translate(416.27,586.44) scale(0.8654,1)" font-size="8.84" font-weight="400" text-anchor="middle" fill="#111" xml:space="preserve" stroke="#111" stroke-width="0.26">27</text>
<text transform="translate(435.72,586.44) scale(0.8654,1)" font-size="8.84" font-weight="400" text-anchor="middle" fill="#111" xml:space="preserve" stroke="#111" stroke-width="0.26">22.5</text>
<text transform="translate(455.17,586.44) scale(0.8654,1)" font-size="8.84" font-weight="400" text-anchor="middle" fill="#111" xml:space="preserve" stroke="#111" stroke-width="0.26">17</text>
<text transform="translate(474.62,586.44) scale(0.8654,1)" font-size="8.84" font-weight="400" text-anchor="middle" fill="#111" xml:space="preserve" stroke="#111" stroke-width="0.26">11</text>
<text transform="translate(494.07,586.44) scale(0.8654,1)" font-size="8.84" font-weight="400" text-anchor="middle" fill="#111" xml:space="preserve" stroke="#111" stroke-width="0.26">5</text>
<text transform="translate(40.60,607.91) scale(0.8606,1)" font-size="10.3" font-weight="700" text-anchor="start" fill="#111" xml:space="preserve" stroke="#111" stroke-width="0.45">4CPm 80-C</text>
<text transform="translate(101.20,607.91) scale(0.8510,1)" font-size="10.3" font-weight="700" text-anchor="start" fill="#111" xml:space="preserve" stroke="#111" stroke-width="0.45">4CP 80-C</text>
<text transform="translate(176.50,607.91) scale(0.8750,1)" font-size="9.67" font-weight="400" text-anchor="middle" fill="#111" xml:space="preserve" stroke="#111" stroke-width="0.28">0.55</text>
<text transform="translate(212.90,607.91) scale(0.8750,1)" font-size="9.67" font-weight="400" text-anchor="middle" fill="#111" xml:space="preserve" stroke="#111" stroke-width="0.28">0.75</text>
<text transform="translate(280.12,607.71) scale(0.8654,1)" font-size="8.84" font-weight="400" text-anchor="middle" fill="#111" xml:space="preserve" stroke="#111" stroke-width="0.26">52</text>
<text transform="translate(299.57,607.71) scale(0.8654,1)" font-size="8.84" font-weight="400" text-anchor="middle" fill="#111" xml:space="preserve" stroke="#111" stroke-width="0.26">50</text>
<text transform="translate(319.02,607.71) scale(0.8654,1)" font-size="8.84" font-weight="400" text-anchor="middle" fill="#111" xml:space="preserve" stroke="#111" stroke-width="0.26">49</text>
<text transform="translate(338.47,607.71) scale(0.8654,1)" font-size="8.84" font-weight="400" text-anchor="middle" fill="#111" xml:space="preserve" stroke="#111" stroke-width="0.26">47</text>
<text transform="translate(357.92,607.71) scale(0.8654,1)" font-size="8.84" font-weight="400" text-anchor="middle" fill="#111" xml:space="preserve" stroke="#111" stroke-width="0.26">44.5</text>
<text transform="translate(377.38,607.71) scale(0.8654,1)" font-size="8.84" font-weight="400" text-anchor="middle" fill="#111" xml:space="preserve" stroke="#111" stroke-width="0.26">42</text>
<text transform="translate(396.82,607.71) scale(0.8654,1)" font-size="8.84" font-weight="400" text-anchor="middle" fill="#111" xml:space="preserve" stroke="#111" stroke-width="0.26">40</text>
<text transform="translate(416.27,607.71) scale(0.8654,1)" font-size="8.84" font-weight="400" text-anchor="middle" fill="#111" xml:space="preserve" stroke="#111" stroke-width="0.26">34</text>
<text transform="translate(435.72,607.71) scale(0.8654,1)" font-size="8.84" font-weight="400" text-anchor="middle" fill="#111" xml:space="preserve" stroke="#111" stroke-width="0.26">28.5</text>
<text transform="translate(455.17,607.71) scale(0.8654,1)" font-size="8.84" font-weight="400" text-anchor="middle" fill="#111" xml:space="preserve" stroke="#111" stroke-width="0.26">22.5</text>
<text transform="translate(474.62,607.71) scale(0.8654,1)" font-size="8.84" font-weight="400" text-anchor="middle" fill="#111" xml:space="preserve" stroke="#111" stroke-width="0.26">16</text>
<text transform="translate(494.07,607.71) scale(0.8654,1)" font-size="8.84" font-weight="400" text-anchor="middle" fill="#111" xml:space="preserve" stroke="#111" stroke-width="0.26">10</text>
<text transform="translate(40.60,629.18) scale(0.8606,1)" font-size="10.3" font-weight="700" text-anchor="start" fill="#111" xml:space="preserve" stroke="#111" stroke-width="0.45">3CPm 100-C</text>
<text transform="translate(101.20,629.18) scale(0.8510,1)" font-size="10.3" font-weight="700" text-anchor="start" fill="#111" xml:space="preserve" stroke="#111" stroke-width="0.45">3CP 100-C</text>
<text transform="translate(176.50,629.18) scale(0.8750,1)" font-size="9.67" font-weight="400" text-anchor="middle" fill="#111" xml:space="preserve" stroke="#111" stroke-width="0.28">0.55</text>
<text transform="translate(212.90,629.18) scale(0.8750,1)" font-size="9.67" font-weight="400" text-anchor="middle" fill="#111" xml:space="preserve" stroke="#111" stroke-width="0.28">0.75</text>
<text transform="translate(280.12,628.98) scale(0.8654,1)" font-size="8.84" font-weight="400" text-anchor="middle" fill="#111" xml:space="preserve" stroke="#111" stroke-width="0.26">38</text>
<text transform="translate(299.57,628.98) scale(0.8654,1)" font-size="8.84" font-weight="400" text-anchor="middle" fill="#111" xml:space="preserve" stroke="#111" stroke-width="0.26">37</text>
<text transform="translate(319.02,628.98) scale(0.8654,1)" font-size="8.84" font-weight="400" text-anchor="middle" fill="#111" xml:space="preserve" stroke="#111" stroke-width="0.26">36</text>
<text transform="translate(338.47,628.98) scale(0.8654,1)" font-size="8.84" font-weight="400" text-anchor="middle" fill="#111" xml:space="preserve" stroke="#111" stroke-width="0.26">35</text>
<text transform="translate(357.92,628.98) scale(0.8654,1)" font-size="8.84" font-weight="400" text-anchor="middle" fill="#111" xml:space="preserve" stroke="#111" stroke-width="0.26">34.5</text>
<text transform="translate(377.38,628.98) scale(0.8654,1)" font-size="8.84" font-weight="400" text-anchor="middle" fill="#111" xml:space="preserve" stroke="#111" stroke-width="0.26">33.5</text>
<text transform="translate(396.82,628.98) scale(0.8654,1)" font-size="8.84" font-weight="400" text-anchor="middle" fill="#111" xml:space="preserve" stroke="#111" stroke-width="0.26">33</text>
<text transform="translate(416.27,628.98) scale(0.8654,1)" font-size="8.84" font-weight="400" text-anchor="middle" fill="#111" xml:space="preserve" stroke="#111" stroke-width="0.26">31</text>
<text transform="translate(435.72,628.98) scale(0.8654,1)" font-size="8.84" font-weight="400" text-anchor="middle" fill="#111" xml:space="preserve" stroke="#111" stroke-width="0.26">28</text>
<text transform="translate(455.17,628.98) scale(0.8654,1)" font-size="8.84" font-weight="400" text-anchor="middle" fill="#111" xml:space="preserve" stroke="#111" stroke-width="0.26">26</text>
<text transform="translate(474.62,628.98) scale(0.8654,1)" font-size="8.84" font-weight="400" text-anchor="middle" fill="#111" xml:space="preserve" stroke="#111" stroke-width="0.26">23</text>
<text transform="translate(494.07,628.98) scale(0.8654,1)" font-size="8.84" font-weight="400" text-anchor="middle" fill="#111" xml:space="preserve" stroke="#111" stroke-width="0.26">20</text>
<text transform="translate(513.52,628.98) scale(0.8654,1)" font-size="8.84" font-weight="400" text-anchor="middle" fill="#111" xml:space="preserve" stroke="#111" stroke-width="0.26">17</text>
<text transform="translate(532.97,628.98) scale(0.8654,1)" font-size="8.84" font-weight="400" text-anchor="middle" fill="#111" xml:space="preserve" stroke="#111" stroke-width="0.26">13.5</text>
<text transform="translate(552.42,628.98) scale(0.8654,1)" font-size="8.84" font-weight="400" text-anchor="middle" fill="#111" xml:space="preserve" stroke="#111" stroke-width="0.26">10</text>
<text transform="translate(571.88,628.98) scale(0.8654,1)" font-size="8.84" font-weight="400" text-anchor="middle" fill="#111" xml:space="preserve" stroke="#111" stroke-width="0.26">5</text>
<text transform="translate(40.60,650.45) scale(0.8606,1)" font-size="10.3" font-weight="700" text-anchor="start" fill="#111" xml:space="preserve" stroke="#111" stroke-width="0.45">4CPm 100-C</text>
<text transform="translate(101.20,650.45) scale(0.8510,1)" font-size="10.3" font-weight="700" text-anchor="start" fill="#111" xml:space="preserve" stroke="#111" stroke-width="0.45">4CP 100-C</text>
<text transform="translate(176.50,650.45) scale(0.8750,1)" font-size="9.67" font-weight="400" text-anchor="middle" fill="#111" xml:space="preserve" stroke="#111" stroke-width="0.28">0.75</text>
<text transform="translate(212.90,650.45) scale(0.8750,1)" font-size="9.67" font-weight="400" text-anchor="middle" fill="#111" xml:space="preserve" stroke="#111" stroke-width="0.28">1</text>
<text transform="translate(280.12,650.25) scale(0.8654,1)" font-size="8.84" font-weight="400" text-anchor="middle" fill="#111" xml:space="preserve" stroke="#111" stroke-width="0.26">50</text>
<text transform="translate(299.57,650.25) scale(0.8654,1)" font-size="8.84" font-weight="400" text-anchor="middle" fill="#111" xml:space="preserve" stroke="#111" stroke-width="0.26">50</text>
<text transform="translate(319.02,650.25) scale(0.8654,1)" font-size="8.84" font-weight="400" text-anchor="middle" fill="#111" xml:space="preserve" stroke="#111" stroke-width="0.26">49</text>
<text transform="translate(338.47,650.25) scale(0.8654,1)" font-size="8.84" font-weight="400" text-anchor="middle" fill="#111" xml:space="preserve" stroke="#111" stroke-width="0.26">48</text>
<text transform="translate(357.92,650.25) scale(0.8654,1)" font-size="8.84" font-weight="400" text-anchor="middle" fill="#111" xml:space="preserve" stroke="#111" stroke-width="0.26">47</text>
<text transform="translate(377.38,650.25) scale(0.8654,1)" font-size="8.84" font-weight="400" text-anchor="middle" fill="#111" xml:space="preserve" stroke="#111" stroke-width="0.26">46</text>
<text transform="translate(396.82,650.25) scale(0.8654,1)" font-size="8.84" font-weight="400" text-anchor="middle" fill="#111" xml:space="preserve" stroke="#111" stroke-width="0.26">45</text>
<text transform="translate(416.27,650.25) scale(0.8654,1)" font-size="8.84" font-weight="400" text-anchor="middle" fill="#111" xml:space="preserve" stroke="#111" stroke-width="0.26">42</text>
<text transform="translate(435.72,650.25) scale(0.8654,1)" font-size="8.84" font-weight="400" text-anchor="middle" fill="#111" xml:space="preserve" stroke="#111" stroke-width="0.26">39.5</text>
<text transform="translate(455.17,650.25) scale(0.8654,1)" font-size="8.84" font-weight="400" text-anchor="middle" fill="#111" xml:space="preserve" stroke="#111" stroke-width="0.26">37</text>
<text transform="translate(474.62,650.25) scale(0.8654,1)" font-size="8.84" font-weight="400" text-anchor="middle" fill="#111" xml:space="preserve" stroke="#111" stroke-width="0.26">34</text>
<text transform="translate(494.07,650.25) scale(0.8654,1)" font-size="8.84" font-weight="400" text-anchor="middle" fill="#111" xml:space="preserve" stroke="#111" stroke-width="0.26">30.5</text>
<text transform="translate(513.52,650.25) scale(0.8654,1)" font-size="8.84" font-weight="400" text-anchor="middle" fill="#111" xml:space="preserve" stroke="#111" stroke-width="0.26">26.5</text>
<text transform="translate(532.97,650.25) scale(0.8654,1)" font-size="8.84" font-weight="400" text-anchor="middle" fill="#111" xml:space="preserve" stroke="#111" stroke-width="0.26">22</text>
<text transform="translate(552.42,650.25) scale(0.8654,1)" font-size="8.84" font-weight="400" text-anchor="middle" fill="#111" xml:space="preserve" stroke="#111" stroke-width="0.26">17</text>
<text transform="translate(571.88,650.25) scale(0.8654,1)" font-size="8.84" font-weight="400" text-anchor="middle" fill="#111" xml:space="preserve" stroke="#111" stroke-width="0.26">11</text>
<text transform="translate(591.33,650.25) scale(0.8654,1)" font-size="8.84" font-weight="400" text-anchor="middle" fill="#111" xml:space="preserve" stroke="#111" stroke-width="0.26">5</text>
<text transform="translate(37.60,668.60) scale(0.9077,1)" font-size="7.8" font-weight="400" text-anchor="start" fill="#111" xml:space="preserve" stroke="#111" stroke-width="0.3"><tspan font-weight="700">Q</tspan> = Portata</text>
<text transform="translate(79.00,668.60) scale(0.9128,1)" font-size="7.8" font-weight="400" text-anchor="start" fill="#111" xml:space="preserve" stroke="#111" stroke-width="0.3"><tspan font-weight="700">H</tspan> = Prevalenza manometrica totale</text>
<text transform="translate(194.70,668.60) scale(0.9100,1)" font-size="7.8" font-weight="400" text-anchor="start" fill="#111" xml:space="preserve" stroke="#111" stroke-width="0.3"><tspan font-weight="700">HS</tspan> = Altezza di aspirazione</text>
<text transform="translate(380.60,668.60) scale(0.8885,1)" font-size="7.8" font-weight="400" text-anchor="start" fill="#111" xml:space="preserve" stroke="#111" stroke-width="0.3">Tolleranza delle curve di prestazione secondo EN ISO 9906 Grado 3B.</text>
<text transform="translate(589.80,885.70) scale(0.9606,1)" font-size="9.36" font-weight="700" text-anchor="start" fill="#111" xml:space="preserve" stroke="#111" stroke-width="0.1">87</text>
</svg>
</body></html>
